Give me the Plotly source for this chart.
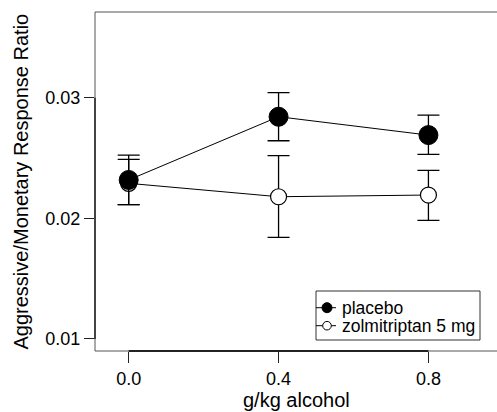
import plotly.graph_objects as go

# Data
doses = [0.0, 0.4, 0.8]
placebo_mean = [0.02318, 0.02842, 0.02690]
placebo_upper = [0.02524, 0.03041, 0.02856]
placebo_lower = [0.02113, 0.02643, 0.02530]
zolm_mean = [0.02290, 0.02179, 0.02193]
zolm_upper = [0.02489, 0.02519, 0.02398]
zolm_lower = [0.02113, 0.01843, 0.01983]
x_ticks = [0.0, 0.4, 0.8]
x_tick_labels = ["0.0", "0.4", "0.8"]
y_ticks = [0.01, 0.02, 0.03]
y_tick_labels = ["0.01", "0.02", "0.03"]
series_names = ["placebo", "zolmitriptan 5 mg"]
x_title = "g/kg alcohol"
y_title = "Aggressive/Monetary Response Ratio"

FONT = "Liberation Sans, Arial, Helvetica, sans-serif"
FS = 18
FS_TITLE = 20
FS_LEG = 17.5

fig = go.Figure()

def err(mean, up, lo):
    return dict(type="data", symmetric=False,
                array=[u - m for u, m in zip(up, mean)],
                arrayminus=[m - l for m, l in zip(mean, lo)],
                color="black", thickness=1.3, width=11)

fig.add_trace(go.Scatter(
    x=doses, y=zolm_mean, mode="lines+markers", name=series_names[1],
    line=dict(color="black", width=1),
    marker=dict(size=16, color="white", line=dict(color="black", width=1.2)),
    error_y=err(zolm_mean, zolm_upper, zolm_lower), showlegend=False))

fig.add_trace(go.Scatter(
    x=doses, y=placebo_mean, mode="lines+markers", name=series_names[0],
    line=dict(color="black", width=1),
    marker=dict(size=19, color="black", line=dict(color="black", width=1)),
    error_y=err(placebo_mean, placebo_upper, placebo_lower), showlegend=False))

shapes = []
box_col = "#555555"
shapes.append(dict(type="line", xref="paper", yref="paper", x0=0, x1=0, y0=0, y1=1, line=dict(color=box_col, width=1)))
shapes.append(dict(type="line", xref="paper", yref="paper", x0=0, x1=1, y0=1, y1=1, line=dict(color=box_col, width=1)))
shapes.append(dict(type="line", xref="paper", yref="paper", x0=0, x1=1, y0=0, y1=0, line=dict(color=box_col, width=1)))
shapes.append(dict(type="line", xref="x", yref="paper", x0=x_ticks[0], x1=x_ticks[-1], y0=0, y1=0, line=dict(color="#222222", width=2)))
shapes.append(dict(type="line", xref="paper", yref="y", x0=0, x1=0, y0=y_ticks[0], y1=y_ticks[-1], line=dict(color="#222222", width=1.5)))

W, H = 402.0, 339.0
def px(x): return (x - 95) / W
def py(y): return (351 - y) / H
shapes.append(dict(type="rect", xref="paper", yref="paper", x0=px(316), x1=px(480), y0=py(340), y1=py(291),
                   line=dict(color="#333333", width=1), fillcolor="white"))
rows = [307.7, 325.7]
for i, ry in enumerate(rows):
    shapes.append(dict(type="line", xref="paper", yref="paper", x0=px(316), x1=px(336), y0=py(ry), y1=py(ry),
                       line=dict(color="black", width=1)))
    r = 5 if i == 0 else 4.3
    shapes.append(dict(type="circle", xref="paper", yref="paper", x0=px(327 - r), x1=px(327 + r),
                       y0=py(ry + r), y1=py(ry - r),
                       line=dict(color="black", width=1), fillcolor="black" if i == 0 else "white"))

annotations = []
for i, ry in enumerate(rows):
    annotations.append(dict(text=series_names[i], xref="paper", yref="paper", x=px(341), y=py(ry),
                            xanchor="left", yanchor="middle", showarrow=False, borderpad=0,
                            font=dict(family=FONT, size=FS_LEG, color="black")))
annotations.append(dict(text=x_title, xref="paper", yref="paper", x=0.5, y=py(400),
                        xanchor="center", yanchor="middle", showarrow=False,
                        font=dict(family=FONT, size=FS_TITLE, color="black")))
annotations.append(dict(text=y_title, xref="paper", yref="paper", x=px(20), y=0.5, textangle=-90,
                        xanchor="center", yanchor="middle", showarrow=False,
                        font=dict(family=FONT, size=FS_TITLE, color="black")))

fig.update_layout(
    width=497, height=412,
    margin=dict(l=95, r=0, t=12, b=61),
    paper_bgcolor="white", plot_bgcolor="white",
    font=dict(family=FONT, size=FS, color="black"),
    shapes=shapes, annotations=annotations,
    xaxis=dict(range=[-0.0899, 0.983], tickvals=x_ticks, ticktext=x_tick_labels,
               ticks="outside", ticklen=11, tickcolor="#222222", tickwidth=1,
               showgrid=False, zeroline=False, showline=False, automargin=False),
    yaxis=dict(range=[0.009005, 0.0371], tickvals=y_ticks, ticktext=y_tick_labels,
               ticks="outside", ticklen=10, tickcolor="#222222", tickwidth=1,
               showgrid=False, zeroline=False, showline=False, automargin=False),
    showlegend=False,
)

fig.write_html("out.html", config={"displayModeBar": False},
               post_script="document.body.style.margin='0';document.body.style.overflow='hidden';")
